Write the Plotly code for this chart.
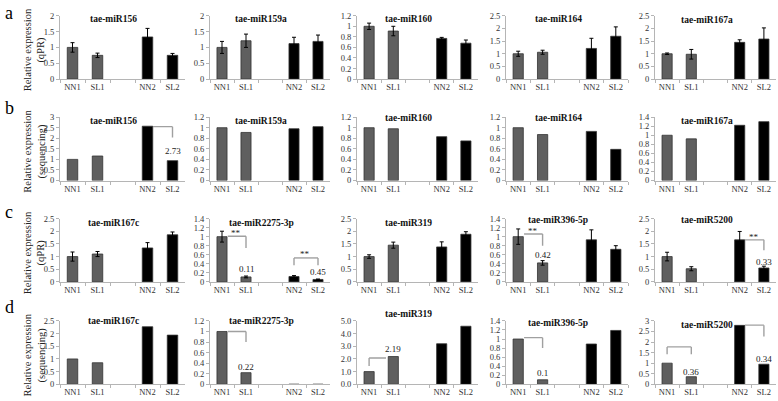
import plotly.graph_objects as go

W, H = 778, 401

# ---------------- data ----------------
categories = ["NN1", "SL1", " ", "NN2", "SL2"]
bar_cats = ["NN1", "SL1", "NN2", "SL2"]
bar_colors = ["#5f5f5f", "#5f5f5f", "#000000", "#000000"]

row_a_names = ["tae-miR156", "tae-miR159a", "tae-miR160", "tae-miR164", "tae-miR167a"]
row_a_vals = [[1.00, 0.75, 1.33, 0.75],
              [1.00, 1.21, 1.12, 1.19],
              [1.00, 0.91, 0.77, 0.68],
              [1.00, 1.06, 1.21, 1.69],
              [1.00, 0.98, 1.45, 1.58]]
row_a_errs = [[0.15, 0.07, 0.27, 0.06],
              [0.19, 0.21, 0.20, 0.20],
              [0.06, 0.09, 0.02, 0.06],
              [0.10, 0.08, 0.40, 0.37],
              [0.03, 0.19, 0.10, 0.44]]
row_a_ymax = [2, 2, 1.2, 2.5, 2.5]
row_a_dtick = [0.5, 0.5, 0.2, 0.5, 0.5]

row_b_names = ["tae-miR156", "tae-miR159a", "tae-miR160", "tae-miR164", "tae-miR167a"]
row_b_vals = [[1.00, 1.16, 2.57, 0.94],
              [1.00, 0.91, 0.98, 1.02],
              [1.00, 0.98, 0.83, 0.75],
              [1.00, 0.87, 0.93, 0.59],
              [1.00, 0.92, 1.22, 1.30]]
row_b_ymax = [3, 1.2, 1.2, 1.2, 1.4]
row_b_dtick = [0.5, 0.2, 0.2, 0.2, 0.2]

row_c_names = ["tae-miR167c", "tae-miR2275-3p", "tae-miR319", "tae-miR396-5p", "tae-miR5200"]
row_c_vals = [[1.00, 1.10, 1.34, 1.86],
              [1.00, 0.11, 0.12, 0.054],
              [1.00, 1.45, 1.38, 1.88],
              [1.00, 0.42, 0.93, 0.72],
              [1.00, 0.52, 1.66, 0.55]]
row_c_errs = [[0.18, 0.10, 0.21, 0.11],
              [0.12, 0.02, 0.02, 0.01],
              [0.07, 0.12, 0.20, 0.10],
              [0.17, 0.05, 0.22, 0.08],
              [0.17, 0.08, 0.33, 0.07]]
row_c_ymax = [2.5, 1.4, 2.5, 1.4, 2.5]
row_c_dtick = [0.5, 0.2, 0.5, 0.2, 0.5]

row_d_names = ["tae-miR167c", "tae-miR2275-3p", "tae-miR319", "tae-miR396-5p", "tae-miR5200"]
row_d_vals = [[1.00, 0.85, 2.27, 1.94],
              [1.00, 0.22, 0.0, 0.0],
              [1.00, 2.19, 3.20, 4.58],
              [1.00, 0.10, 0.89, 1.19],
              [1.00, 0.36, 2.79, 0.95]]
row_d_ymax = [2.5, 1.2, 5, 1.4, 3]
row_d_dtick = [0.5, 0.2, 1, 0.2, 0.5]
row_d_tickformat = ["", "", ".1f", "", ""]

panel_letters = ["a", "b", "c", "d"]
row_axis_titles = ["Relative expression<br>(qPR)", "Relative expression<br>(sequencing)",
                   "Relative expression<br>(qPR)", "Relative expression<br>(sequencing)"]

# brackets: (panel index, list of (x, y) points in category-index / value units)
brackets = [
    (5, [(3.22, 2.55), (4, 2.55), (4, 2.03)]),
    (11, [(0.24, 1.01), (1, 1.01), (1, 0.75)]),
    (11, [(3, 0.37), (3, 0.53), (4, 0.53), (4, 0.37)]),
    (13, [(0.24, 1.06), (1, 1.06), (1, 0.80)]),
    (14, [(3.22, 1.66), (4, 1.66), (4, 1.25)]),
    (16, [(0.24, 1.00), (1, 1.00), (1, 0.80)]),
    (17, [(0, 1.45), (0, 2.08), (0.7, 2.08)]),
    (18, [(0.24, 1.03), (1, 1.03), (1, 0.80)]),
    (19, [(0, 1.42), (0, 1.77), (1, 1.77), (1, 1.42)]),
    (19, [(3.22, 2.80), (4, 2.80), (4, 2.26)]),
]
# bracket labels: (panel index, x, y, text)
bracket_labels = [
    (5, 4, 1.38, "2.73"),
    (11, 0.58, 1.08, "**"), (11, 1, 0.29, "0.11"),
    (11, 3.47, 0.62, "**"), (11, 4, 0.21, "0.45"),
    (13, 0.6, 1.12, "**"), (13, 1, 0.59, "0.42"),
    (14, 3.6, 1.77, "**"), (14, 4, 0.80, "0.33"),
    (16, 1, 0.32, "0.22"),
    (17, 1, 2.75, "2.19"),
    (18, 1, 0.25, "0.1"),
    (19, 1, 0.60, "0.36"), (19, 4, 1.18, "0.34"),
]

# ---------------- layout geometry (window pixels) ----------------
row_top = [11, 115, 219, 324]
row_bot = [76, 180, 284, 389]
col_left = [60, 210, 357, 506, 655]
col_right = [185, 330, 478, 628, 776]
title_y = [[14.5, 14.5, 14.5, 14.5, 15],
           [119, 119, 116, 116, 119],
           [224, 224, 224, 221, 221],
           [324, 324, 317, 326, 328]]
letter_y = [8, 106, 212, 310]

def fx(p):
    return p / W

def fy(p):
    return 1 - p / H

SERIF = "Liberation Serif"
AXC = "#b5b5b5"

rows = [
    (row_a_names, row_a_vals, row_a_errs, row_a_ymax, row_a_dtick, [""] * 5),
    (row_b_names, row_b_vals, None, row_b_ymax, row_b_dtick, [""] * 5),
    (row_c_names, row_c_vals, row_c_errs, row_c_ymax, row_c_dtick, [""] * 5),
    (row_d_names, row_d_vals, None, row_d_ymax, row_d_dtick, row_d_tickformat),
]

fig = go.Figure()
layout = dict(width=W, height=H, margin=dict(l=0, r=0, t=0, b=0),
              paper_bgcolor="white", plot_bgcolor="white",
              bargap=0.58, showlegend=False, autosize=False)
annotations = []
shapes = []

def axid(n):
    return "" if n == 1 else str(n)

for r, (names, vals, errs, ymaxs, dticks, tfs) in enumerate(rows):
    for c in range(5):
        n = r * 5 + c + 1
        a = axid(n)
        trace = go.Bar(
            x=bar_cats, y=vals[c], xaxis="x" + a, yaxis="y" + a,
            marker=dict(color=bar_colors, line=dict(color="#333333", width=0.8)),
            hoverinfo="skip",
        )
        if errs is not None:
            trace.error_y = dict(type="data", array=errs[c], visible=True,
                                 color="#000000", thickness=1, width=2)
        fig.add_trace(trace)
        layout["xaxis" + a] = dict(
            domain=[fx(col_left[c]), fx(col_right[c])], anchor="y" + a,
            type="category", categoryorder="array", categoryarray=categories,
            range=[-0.5, 4.5], showline=True, linecolor=AXC, linewidth=1,
            ticks="outside", tickson="boundaries", ticklen=3, tickcolor=AXC,
            tickangle=0,
            tickfont=dict(family=SERIF, size=8.5, color="#333333"),
            showgrid=False, zeroline=False, fixedrange=True)
        ydict = dict(
            domain=[fy(row_bot[r]), fy(row_top[r])], anchor="x" + a,
            range=[0, ymaxs[c]], dtick=dticks[c], tick0=0,
            showline=True, linecolor=AXC, linewidth=1,
            ticks="outside", ticklen=3, tickcolor=AXC,
            tickfont=dict(family=SERIF, size=8.5, color="#333333"),
            showgrid=False, zeroline=False, fixedrange=True)
        if tfs[c]:
            ydict["tickformat"] = tfs[c]
        layout["yaxis" + a] = ydict
        # panel title
        cx = (col_left[c] + col_right[c]) / 2 - 9
        annotations.append(dict(
            x=fx(cx), y=fy(title_y[r][c]), xref="paper", yref="paper",
            text="<b>" + names[c] + "</b>", showarrow=False,
            font=dict(family=SERIF, size=9.5, color="#111111"),
            xanchor="center", yanchor="middle"))
    # row letter
    annotations.append(dict(
        x=fx(3), y=fy(letter_y[r]), xref="paper", yref="paper",
        text=panel_letters[r], showarrow=False,
        font=dict(family=SERIF, size=18, color="#000000"),
        xanchor="left", yanchor="middle"))
    # row axis title
    mid = (row_top[r] + row_bot[r]) / 2 + 3
    annotations.append(dict(
        x=fx(35), y=fy(mid), xref="paper", yref="paper",
        text=row_axis_titles[r], showarrow=False, textangle=-90,
        font=dict(family=SERIF, size=10.5, color="#222222"),
        xanchor="center", yanchor="middle"))

for pidx, pts in brackets:
    a = axid(pidx + 1)
    for (x0, y0), (x1, y1) in zip(pts[:-1], pts[1:]):
        shapes.append(dict(type="line", xref="x" + a, yref="y" + a,
                           x0=x0, y0=y0, x1=x1, y1=y1,
                           line=dict(color="#a0a0a0", width=1.4)))

for pidx, x, y, txt in bracket_labels:
    a = axid(pidx + 1)
    annotations.append(dict(
        x=x, y=y, xref="x" + a, yref="y" + a, text=txt, showarrow=False,
        font=dict(family=SERIF, size=9, color="#222222"),
        xanchor="center", yanchor="middle"))

layout["annotations"] = annotations
layout["shapes"] = shapes
fig.update_layout(**layout)
fig.write_html("out.html",
               config={"displayModeBar": False, "staticPlot": True},
               post_script="document.body.style.margin='0px';"
                           "document.body.style.overflow='hidden';")
